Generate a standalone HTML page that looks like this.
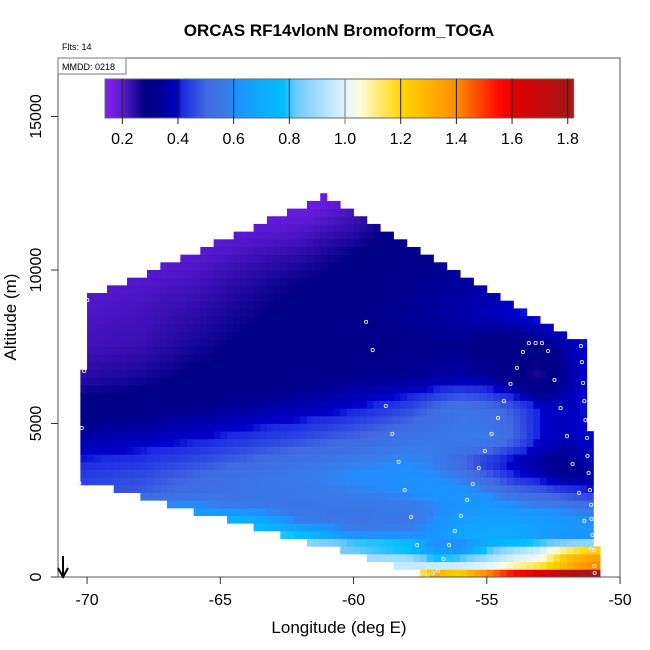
<!DOCTYPE html>
<html><head><meta charset="utf-8"><style>
html,body{margin:0;padding:0;background:#fff;}
svg{display:block;font-family:"Liberation Sans",sans-serif;}
</style></head><body>
<svg id="chart" width="650" height="650" viewBox="0 0 650 650">
<rect x="0" y="0" width="650" height="650" fill="#fff"/>
<text x="339" y="36" text-anchor="middle" font-size="17" font-weight="bold">ORCAS RF14vlonN Bromoform_TOGA</text>
<text x="62" y="50" font-size="9">Flts: 14</text>
<g id="cells"></g>
<g id="dots"></g>
<rect x="58" y="58" width="562" height="519" fill="none" stroke="#555" stroke-width="1"/>
<rect x="58" y="58" width="68" height="16" fill="#fff" stroke="#777" stroke-width="1"/>
<text x="62" y="70" font-size="9">MMDD: 0218</text>
<g id="cbar"></g>
<g id="axes"></g>
<text x="339" y="633" text-anchor="middle" font-size="17">Longitude (deg E)</text>
<text transform="translate(16,317) rotate(-90)" text-anchor="middle" font-size="17">Altitude (m)</text>
<g>
<line x1="63" y1="556" x2="63" y2="576" stroke="#000" stroke-width="2"/>
<path d="M58,568 L63,577 L68,568" fill="none" stroke="#000" stroke-width="2"/>
</g>
</svg>
<script>
// data
const lonGrid = [-70.5,-68,-66,-64,-62,-60,-58,-57,-56,-55,-54,-53,-52,-51];
const altGrid = [125,375,625,875,1125,1375,1750,2250,2750,3250,3750,4500,5500,6500,7500,8500,9500,10500,11500,12500];
const values = [
[0.95,0.95,0.95,0.95,0.95,0.95,0.95,1.3,1.22,1.4,1.55,1.62,1.72,1.8],
[0.95,0.95,0.95,0.95,0.95,0.95,0.95,0.96,0.97,1.0,1.08,1.15,1.3,1.4],
[0.9,0.9,0.9,0.9,0.9,0.9,0.9,0.78,0.8,0.9,0.98,1.03,1.25,1.35],
[0.88,0.88,0.88,0.88,0.88,0.82,0.78,0.65,0.62,0.8,0.9,0.97,1.12,1.22],
[0.88,0.88,0.88,0.88,0.88,0.8,0.78,0.6,0.6,0.7,0.76,0.8,0.85,0.88],
[0.82,0.82,0.82,0.82,0.78,0.6,0.6,0.62,0.68,0.7,0.7,0.65,0.62,0.62],
[0.75,0.75,0.75,0.78,0.58,0.55,0.56,0.6,0.66,0.68,0.68,0.66,0.63,0.62],
[0.62,0.62,0.62,0.56,0.55,0.55,0.56,0.58,0.62,0.64,0.62,0.6,0.58,0.55],
[0.45,0.48,0.52,0.55,0.56,0.58,0.6,0.62,0.62,0.6,0.52,0.5,0.45,0.42],
[0.44,0.46,0.5,0.55,0.57,0.6,0.6,0.6,0.58,0.5,0.42,0.38,0.34,0.34],
[0.41,0.43,0.46,0.5,0.55,0.58,0.6,0.58,0.5,0.42,0.38,0.34,0.32,0.38],
[0.36,0.38,0.4,0.43,0.46,0.5,0.55,0.56,0.57,0.58,0.5,0.4,0.38,0.4],
[0.3,0.31,0.33,0.35,0.37,0.4,0.45,0.5,0.55,0.52,0.48,0.4,0.38,0.42],
[0.24,0.26,0.29,0.3,0.31,0.33,0.34,0.35,0.36,0.35,0.3,0.25,0.35,0.42],
[0.22,0.23,0.26,0.29,0.3,0.31,0.32,0.33,0.33,0.3,0.28,0.3,0.36,0.42],
[0.21,0.22,0.24,0.27,0.3,0.32,0.34,0.35,0.36,0.38,0.4,0.42,0.45,0.45],
[0.2,0.21,0.22,0.25,0.28,0.3,0.33,0.34,0.35,0.36,0.38,0.4,0.42,0.42],
[0.19,0.19,0.2,0.22,0.24,0.28,0.32,0.33,0.35,0.36,0.38,0.4,0.4,0.4],
[0.17,0.17,0.18,0.19,0.2,0.23,0.3,0.32,0.34,0.35,0.35,0.35,0.35,0.35],
[0.15,0.15,0.15,0.15,0.15,0.2,0.25,0.28,0.3,0.3,0.3,0.3,0.3,0.3]
];
const colStart = -70.25;
const topAlt = [6750,9250,9250,9250,9500,9500,9500,9750,9750,9750,10000,10000,10250,10250,10250,10500,10500,10500,10750,10750,11000,11000,11000,11250,11250,11250,11500,11500,11750,11750,11750,12000,12000,12000,12250,12250,12500,12250,12250,12000,12000,11750,11750,11500,11500,11250,11250,11000,11000,10750,10750,10500,10500,10250,10250,10000,10000,9750,9750,9500,9500,9250,9250,9000,9000,8750,8750,8500,8500,8250,8250,8000,8000,7750,7750,7750,4750,1000];
const botAlt = [3000,3000,3000,3000,3000,2750,2750,2750,2750,2500,2500,2500,2500,2250,2250,2250,2250,2000,2000,2000,2000,2000,1750,1750,1750,1750,1500,1500,1500,1500,1250,1250,1250,1250,1000,1000,1000,1000,1000,750,750,750,750,500,500,500,500,250,250,250,250,0,0,0,0,0,0,0,0,0,0,0,0,0,0,0,0,0,0,0,0,0,0,0,0,0,0,0];
const ptLon = [-69.99,-59.53,-59.28,-70.11,-70.20,-70.29,-58.79,-58.55,-58.31,-58.08,-57.84,-57.62,-57.21,-57.02,-56.83,-56.62,-56.42,-56.20,-55.97,-55.74,-55.53,-55.30,-55.07,-54.82,-54.58,-54.36,-54.11,-53.87,-53.64,-53.42,-53.17,-52.93,-52.70,-52.46,-52.23,-51.99,-51.78,-51.54,-51.34,-51.47,-51.43,-51.39,-51.34,-51.30,-51.24,-51.22,-51.18,-51.13,-51.09,-51.07,-51.04,-51.11,-50.99,-50.96,-50.95];
const ptAlt = [9020,8310,7390,6710,4850,3060,5570,4660,3750,2830,1950,1040,70,130,200,590,1040,1500,1990,2510,3030,3550,4100,4660,5180,5730,6290,6810,7330,7620,7620,7620,7360,6420,5500,4590,3680,2740,1820,7520,7000,6320,5730,5110,4530,3940,3390,2830,2350,1890,1370,910,880,360,130];
const xTicks = [-70,-65,-60,-55,-50];
const yTicks = [0,5000,10000,15000];
const cbTicks = [0.2,0.4,0.6,0.8,1.0,1.2,1.4,1.6,1.8];
const cbMin = 0.138, cbMax = 1.82;

const NS = "http://www.w3.org/2000/svg";
const xS = lon => 58 + (lon + 71.09) * 26.65;
const yS = alt => 577 - alt * 0.0307;
const cbX = v => 122.3 + (v - 0.2) * 278.4;

const stops = [[0.138,[125,32,232]],[0.15,[122,32,230]],[0.2,[90,25,210]],[0.23,[55,15,175]],[0.28,[0,0,135]],[0.33,[0,0,140]],[0.4,[0,0,205]],[0.41,[25,40,225]],[0.5,[65,105,225]],[0.58,[55,125,235]],[0.6,[30,144,255]],[0.78,[0,191,255]],[0.82,[110,200,255]],[1.0,[225,245,255]],[1.05,[255,252,220]],[1.2,[255,215,0]],[1.4,[255,140,0]],[1.55,[255,10,0]],[1.62,[220,0,0]],[1.82,[160,25,25]]];
function color(v){
  if(v<=stops[0][0]) return `rgb(${stops[0][1]})`;
  for(let i=1;i<stops.length;i++){
    if(v<=stops[i][0]){
      const [a,ca]=stops[i-1],[b,cb]=stops[i];const t=(v-a)/(b-a);
      return `rgb(${ca.map((c,k)=>Math.round(c+(cb[k]-c)*t)).join(',')})`;
    }
  }
  return `rgb(${stops[stops.length-1][1]})`;
}
function idx(arr,v){
  if(v<=arr[0]) return [0,0,0];
  if(v>=arr[arr.length-1]) return [arr.length-1,arr.length-1,0];
  for(let i=1;i<arr.length;i++) if(v<=arr[i]) return [i-1,i,(v-arr[i-1])/(arr[i]-arr[i-1])];
}
function valueAt(lon,alt){
  const [i0,i1,tx]=idx(lonGrid,lon),[j0,j1,ty]=idx(altGrid,alt);
  const a=values[j0][i0]*(1-tx)+values[j0][i1]*tx;
  const b=values[j1][i0]*(1-tx)+values[j1][i1]*tx;
  return a*(1-ty)+b*ty;
}
const cells=document.getElementById('cells');
for(let i=0;i<topAlt.length;i++){
  const l0=colStart+0.25*i;
  for(let a=botAlt[i];a<topAlt[i];a+=250){
    const r=document.createElementNS(NS,'rect');
    const x0=xS(l0),x1=xS(l0+0.25),y0=yS(a+250),y1=yS(a);
    r.setAttribute('x',x0.toFixed(2));r.setAttribute('y',y0.toFixed(2));
    r.setAttribute('width',(x1-x0+0.4).toFixed(2));r.setAttribute('height',(y1-y0+0.4).toFixed(2));
    r.setAttribute('fill',color(valueAt(l0+0.125,a+125)));
    
    
    cells.appendChild(r);
  }
}
const dots=document.getElementById('dots');
for(let k=0;k<ptLon.length;k++){
  const c=document.createElementNS(NS,'circle');
  c.setAttribute('cx',xS(ptLon[k]).toFixed(1));c.setAttribute('cy',yS(ptAlt[k]).toFixed(1));
  c.setAttribute('r','1.6');c.setAttribute('fill','none');c.setAttribute('stroke','#e8ecff');c.setAttribute('stroke-width','0.9');
  
  
  dots.appendChild(c);
}
const cb=document.getElementById('cbar');
const cbL=cbX(cbMin),cbR=cbX(cbMax);
for(let x=cbL;x<cbR;x+=1){
  const r=document.createElementNS(NS,'rect');
  r.setAttribute('x',x.toFixed(1));r.setAttribute('y','79');r.setAttribute('width','1.2');r.setAttribute('height','39');
  r.setAttribute('fill',color(cbMin+(x-cbL)/278.4));
  
  
  cb.appendChild(r);
}
const fr=document.createElementNS(NS,'rect');
fr.setAttribute('x',cbL);fr.setAttribute('y','79');fr.setAttribute('width',cbR-cbL);fr.setAttribute('height','39');
fr.setAttribute('fill','none');fr.setAttribute('stroke','#666');


cb.appendChild(fr);
cbTicks.forEach(v=>{
  const l=document.createElementNS(NS,'line');
  l.setAttribute('x1',cbX(v));l.setAttribute('x2',cbX(v));l.setAttribute('y1','79');l.setAttribute('y2','124');
  l.setAttribute('stroke',v===1.0?'#777':'#222');l.setAttribute('stroke-width','1');
  
  
  cb.appendChild(l);
  const t=document.createElementNS(NS,'text');
  t.setAttribute('x',cbX(v));t.setAttribute('y','144');t.setAttribute('text-anchor','middle');t.setAttribute('font-size','16');
  t.textContent=v.toFixed(1);
  
  
  cb.appendChild(t);
});
const ax=document.getElementById('axes');
xTicks.forEach(v=>{
  const l=document.createElementNS(NS,'line');
  l.setAttribute('x1',xS(v));l.setAttribute('x2',xS(v));l.setAttribute('y1','577');l.setAttribute('y2','584');l.setAttribute('stroke','#333');
  
  
  ax.appendChild(l);
  const t=document.createElementNS(NS,'text');
  t.setAttribute('x',xS(v));t.setAttribute('y','605');t.setAttribute('text-anchor','middle');t.setAttribute('font-size','16');
  t.textContent=String(v);
  
  
  ax.appendChild(t);
});
yTicks.forEach(v=>{
  const l=document.createElementNS(NS,'line');
  l.setAttribute('x1','51');l.setAttribute('x2','58');l.setAttribute('y1',yS(v));l.setAttribute('y2',yS(v));l.setAttribute('stroke','#333');
  
  
  ax.appendChild(l);
  const t=document.createElementNS(NS,'text');
  t.setAttribute('transform',`translate(41,${yS(v)}) rotate(-90)`);t.setAttribute('text-anchor','middle');t.setAttribute('font-size','16');
  t.textContent=String(v);
  
  
  ax.appendChild(t);
});
</script>
</body></html>
